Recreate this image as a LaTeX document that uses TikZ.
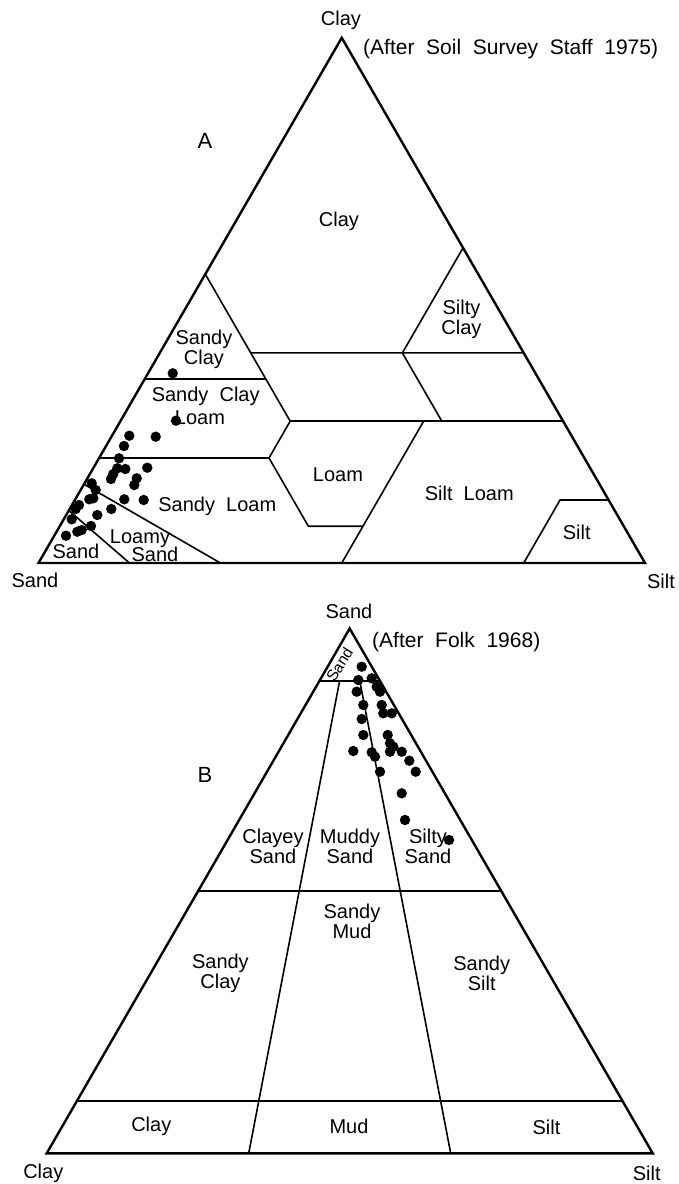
\documentclass[tikz,border=0pt]{standalone}
\usepackage{fontspec}
\setmainfont[WordSpace=2]{Liberation Sans}
\usetikzlibrary{calc}
\begin{document}
\begin{tikzpicture}[x=1pt,y=-1pt,
  edge/.style={line width=2.4pt, line join=miter},
  part/.style={line width=1.6pt},
  lbl/.style={font=\fontsize{20}{20}\selectfont, inner sep=0pt, align=center},
  cite/.style={font=\fontsize{21}{21}\selectfont, inner sep=0pt, anchor=west},
  big/.style={font=\fontsize{22}{22}\selectfont, inner sep=0pt},
  datum/.style={fill=black},
]
\useasboundingbox (0,0) rectangle (678,1184);

% ---------------- Triangle A (USDA) ----------------
\coordinate (Asand) at (38.5,563);
\coordinate (Asilt) at (645,563);
\coordinate (Aclay) at (341.75,37.8);

\coordinate (a1) at (barycentric cs:Aclay=0.55,Asand=0.45);
\coordinate (a2) at (barycentric cs:Aclay=0.40,Asilt=0.15,Asand=0.45);
\coordinate (a3) at (barycentric cs:Aclay=0.35,Asilt=0.20,Asand=0.45);
\coordinate (a4) at (barycentric cs:Aclay=0.27,Asilt=0.28,Asand=0.45);
\coordinate (a5) at (barycentric cs:Aclay=0.20,Asilt=0.28,Asand=0.52);
\coordinate (a6) at (barycentric cs:Aclay=0.07,Asilt=0.41,Asand=0.52);
\coordinate (a7) at (barycentric cs:Aclay=0.07,Asilt=0.50,Asand=0.43);
\coordinate (a8) at (barycentric cs:Asilt=0.50,Asand=0.50);
\coordinate (l35) at (barycentric cs:Aclay=0.35,Asand=0.65);
\coordinate (l20) at (barycentric cs:Aclay=0.20,Asand=0.80);
\coordinate (l15) at (barycentric cs:Aclay=0.15,Asand=0.85);
\coordinate (l10) at (barycentric cs:Aclay=0.10,Asand=0.90);
\coordinate (b15) at (barycentric cs:Asilt=0.15,Asand=0.85);
\coordinate (b30) at (barycentric cs:Asilt=0.30,Asand=0.70);
\coordinate (b80) at (barycentric cs:Asilt=0.80,Asand=0.20);
\coordinate (c40r) at (barycentric cs:Aclay=0.40,Asilt=0.60);
\coordinate (c40m) at (barycentric cs:Aclay=0.40,Asilt=0.40,Asand=0.20);
\coordinate (sc60) at (barycentric cs:Aclay=0.60,Asilt=0.40);
\coordinate (c27r) at (barycentric cs:Aclay=0.27,Asilt=0.73);
\coordinate (c27m) at (barycentric cs:Aclay=0.27,Asilt=0.53,Asand=0.20);
\coordinate (c27s) at (barycentric cs:Aclay=0.27,Asilt=0.50,Asand=0.23);
\coordinate (s12a) at (barycentric cs:Aclay=0.12,Asilt=0.80,Asand=0.08);
\coordinate (s12b) at (barycentric cs:Aclay=0.12,Asilt=0.88);

\draw[part] (a1) -- (a2) -- (a3) -- (a4) -- (a5) -- (a6) -- (a7);
\draw[part] (a2) -- (c40r);
\draw[part] (c40m) -- (sc60);
\draw[part] (l35) -- (a3);
\draw[part] (a4) -- (c27r);
\draw[part] (c40m) -- (c27m);
\draw[part] (l20) -- (a5);
\draw[part] (c27s) -- (a8);
\draw[part] (b80) -- (s12a) -- (s12b);
\draw[part] (b15) -- (l10);
\draw[part] (b30) -- (l15);
\draw[edge] (Asand) -- (Asilt) -- (Aclay) -- cycle;

\node[lbl] (tClayA) at (341,20.7) {Clay};
\node[lbl] (tSandA) at (35,580) {Sand};
\node[lbl] (tSiltA) at (661,581.5) {Silt};
\node[cite] (citeA) at (363,49) {(After Soil Survey Staff 1975)};
\node[big] (labA) at (205,141) {A};

\node[lbl] (rClay) at (339,221.7) {Clay};
\node[lbl] (rSClay) at (204,349.3) {Sandy\\Clay};
\node[lbl] (rSiClay) at (461.5,319.2) {Silty\\Clay};
\node[lbl] (rSCL1) at (205.7,396.7) {Sandy Clay};
\node[lbl] (rSCL2) at (200,417.3) {Loam};
\node[lbl] (rLoam) at (338,475) {Loam};
\node[lbl] (rSiLoam) at (469.3,493.3) {Silt Loam};
\node[lbl] (rSLoam) at (217.3,506.7) {Sandy Loam};
\node[lbl] (rSilt) at (576.7,532.7) {Silt};
\node[lbl] (rSand) at (76,551.7) {Sand};
\node[lbl] (rLS1) at (140,539) {Loamy};
\node[lbl] (rLS2) at (155,554.3) {Sand};

\foreach \px/\py in {172.7/373.3, 176/420.7, 129.3/435.7, 155.7/436.7, 124/446,
  119/458.3, 117.3/468.3, 125.3/469, 147.3/467.7, 113.3/474, 111/479, 136.7/478.3,
  134.3/485, 91.7/483.3, 95.7/490, 93.3/498.3, 89.3/499.3, 124.3/499.3, 143.7/500,
  79/505, 75.7/509, 111.3/509, 97.3/515, 71.7/519.3, 91/526, 81.7/530, 77.3/531.7, 66/535.7}
  \fill[datum] (\px,\py) circle[radius=5.2];

% ---------------- Triangle B (Folk) ----------------
\coordinate (Bclay) at (46.7,1153.3);
\coordinate (Bsilt) at (652.7,1153.3);
\coordinate (Bsand) at (349.7,628.5);

\coordinate (n90l) at (barycentric cs:Bsand=0.9,Bclay=0.1);
\coordinate (n90r) at (barycentric cs:Bsand=0.9,Bsilt=0.1);
\coordinate (n50l) at (barycentric cs:Bsand=0.5,Bclay=0.5);
\coordinate (n50r) at (barycentric cs:Bsand=0.5,Bsilt=0.5);
\coordinate (n10l) at (barycentric cs:Bsand=0.1,Bclay=0.9);
\coordinate (n10r) at (barycentric cs:Bsand=0.1,Bsilt=0.9);
\coordinate (r1t) at (barycentric cs:Bsand=0.9,Bclay=0.0666667,Bsilt=0.0333333);
\coordinate (r2t) at (barycentric cs:Bsand=0.9,Bclay=0.0333333,Bsilt=0.0666667);
\coordinate (r1b) at (barycentric cs:Bclay=0.6666667,Bsilt=0.3333333);
\coordinate (r2b) at (barycentric cs:Bclay=0.3333333,Bsilt=0.6666667);

\draw[part] (n90l) -- (n90r);
\draw[part] (n50l) -- (n50r);
\draw[part] (n10l) -- (n10r);
\draw[part] (r1t) -- (r1b);
\draw[part] (r2t) -- (r2b);
\draw[edge] (Bclay) -- (Bsilt) -- (Bsand) -- cycle;

\node[lbl] (tSandB) at (349,611) {Sand};
\node[lbl] (tClayB) at (43.3,1173) {Clay};
\node[lbl] (tSiltB) at (646.7,1173) {Silt};
\node[cite] (citeB) at (372,642) {(After Folk 1968)};
\node[big] (labB) at (205,775) {B};

\node[lbl, font=\fontsize{15.5}{15.5}\selectfont, rotate=58] (rSandB) at (339.5,664.5) {Sand};
\node[lbl] (rCS) at (273,846.7) {Clayey\\Sand};
\node[lbl] (rMS) at (350,846.7) {Muddy\\Sand};
\node[lbl] (rSiS) at (428,846.7) {Silty\\Sand};
\node[lbl] (rSM) at (352,921.7) {Sandy\\Mud};
\node[lbl] (rSC) at (220.4,973.3) {Sandy\\Clay};
\node[lbl] (rSSi) at (481.7,973.3) {Sandy\\Silt};
\node[lbl] (rC) at (151.3,1126) {Clay};
\node[lbl] (rM) at (349,1126.7) {Mud};
\node[lbl] (rSi) at (546.5,1127.3) {Silt};

\foreach \px/\py in {361.7/666.7, 358.3/680, 371.7/678.3, 376.7/686.7, 356.7/691.7,
  380/691.7, 381.7/705, 363.3/705, 383.3/713.3, 391.7/713.3, 361.7/719, 363.3/735,
  387.7/735, 390/743.3, 393.3/746.7, 390/751.7, 401.7/751.7, 353.3/751, 371.7/752.3,
  375/756.7, 409.3/760.7, 415.7/771.7, 380/771.7, 401.7/793.3, 405/820, 449/840}
  \fill[datum] (\px,\py) circle[radius=5.2];
\end{tikzpicture}
\end{document}
